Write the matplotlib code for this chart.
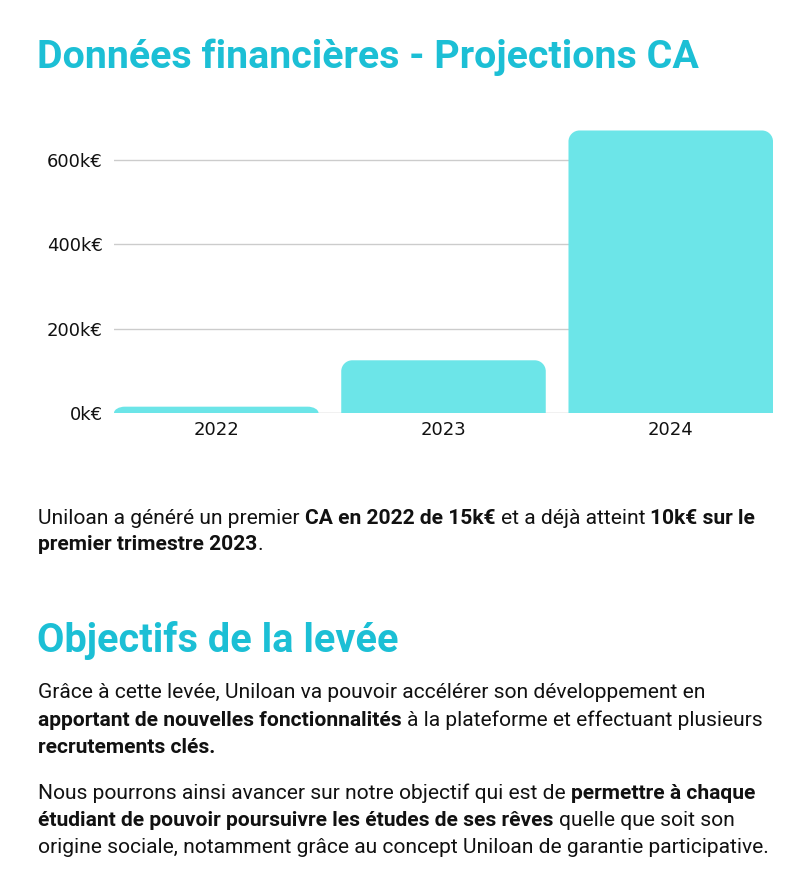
import matplotlib
matplotlib.use("Agg")
import matplotlib.pyplot as plt
from matplotlib.path import Path
from matplotlib.patches import PathPatch

# ---- data ----
years = ["2022", "2023", "2024"]
ca_values = [15, 125, 670]          # k€
y_ticks = [0, 200, 400, 600]
y_tick_labels = ["0k€", "200k€", "400k€", "600k€"]

title = "Données financières - Projections CA"
heading2 = "Objectifs de la levée"
para1 = [
    [("Uniloan a généré un premier ", False), ("CA en 2022 de 15k€", True),
     (" et a déjà atteint ", False), ("10k€ sur le", True)],
    [("premier trimestre 2023", True), (".", False)],
]
para2 = [
    [("Grâce à cette levée, Uniloan va pouvoir accélérer son développement en", False)],
    [("apportant de nouvelles fonctionnalités", True),
     (" à la plateforme et effectuant plusieurs", False)],
    [("recrutements clés.", True)],
]
para3 = [
    [("Nous pourrons ainsi avancer sur notre objectif qui est de ", False),
     ("permettre à chaque", True)],
    [("étudiant de pouvoir poursuivre les études de ses rêves", True),
     (" quelle que soit son", False)],
    [("origine sociale, notamment grâce au concept Uniloan de garantie participative.", False)],
]

W, H = 808, 888
DPI = 100
TEAL = "#1cbfd5"
BAR = "#6ce5e8"
TXT = "#111111"
TITLE_FONT = "Roboto"
BODY_FONT = "Roboto"
TICK_FONT = "DejaVu Sans"

fig = plt.figure(figsize=(W / DPI, H / DPI), dpi=DPI)
fig.patch.set_facecolor("white")


def fx(px):
    return px / W


def fy(py):
    return 1 - py / H


# ---- chart ----
ax_l, ax_r, ax_b = 114, 773, 413
ymax = 700
px_per_k = 253 / 600
ax_t = ax_b - ymax * px_per_k
ax = fig.add_axes([fx(ax_l), fy(ax_b), (ax_r - ax_l) / W, (ax_b - ax_t) / H])
bar_w = 0.9
ax.set_xlim(-bar_w / 2, len(years) - 1 + bar_w / 2)
ax.set_ylim(0, ymax)
for s in ax.spines.values():
    s.set_visible(False)
ax.set_yticks(y_ticks)
ax.set_yticklabels(y_tick_labels, fontsize=13, family=TICK_FONT, color=TXT)
ax.set_xticks(range(len(years)))
ax.set_xticklabels(years, fontsize=13, family=TICK_FONT, color=TXT)
ax.tick_params(axis="both", length=0)
ax.tick_params(axis="y", pad=8)
ax.tick_params(axis="x", pad=6)
for t in y_ticks:
    ax.axhline(t, color="#cccccc" if t else "#bbbbbb", lw=1, zorder=0)

rad_px = 11
x_px_per_unit = (ax_r - ax_l) / (len(years) - 1 + bar_w)
rx = rad_px / x_px_per_unit
ry_full = rad_px / px_per_k
k = 0.5523
for i, v in enumerate(ca_values):
    x0, x1 = i - bar_w / 2, i + bar_w / 2
    ry = min(ry_full, v)
    verts = [
        (x0, 0), (x0, v - ry),
        (x0, v - ry + k * ry), (x0 + rx - k * rx, v), (x0 + rx, v),
        (x1 - rx, v),
        (x1 - rx + k * rx, v), (x1, v - ry + k * ry), (x1, v - ry),
        (x1, 0), (x0, 0),
    ]
    codes = [Path.MOVETO, Path.LINETO,
             Path.CURVE4, Path.CURVE4, Path.CURVE4,
             Path.LINETO,
             Path.CURVE4, Path.CURVE4, Path.CURVE4,
             Path.LINETO, Path.CLOSEPOLY]
    ax.add_patch(PathPatch(Path(verts, codes), facecolor=BAR, edgecolor="none", zorder=2))

# ---- text ----
fig.text(fx(37), fy(57), title, fontsize=28.4, fontweight="bold", family=TITLE_FONT,
         color=TEAL, va="center", ha="left")
fig.text(fx(37), fy(640), heading2, fontsize=28.6, fontweight="bold", family=TITLE_FONT,
         color=TEAL, va="center", ha="left")

renderer = fig.canvas.get_renderer()
BODY_SIZE = 15.1


def text_width(s, bold):
    t = fig.text(0, 0, s, fontsize=BODY_SIZE, family=BODY_FONT,
                 fontweight="bold" if bold else "normal")
    w = t.get_window_extent(renderer).width
    t.remove()
    return w


space_w = {b: text_width("a a", b) - text_width("aa", b) for b in (False, True)}


def draw_line(x, y, runs):
    for s, bold in runs:
        lead = len(s) - len(s.lstrip(" "))
        trail = len(s) - len(s.rstrip(" "))
        core = s.strip(" ")
        x += lead * space_w[bold]
        if core:
            t = fig.text(fx(x), fy(y), core, fontsize=BODY_SIZE, family=BODY_FONT,
                         fontweight="bold" if bold else "normal", color=TXT,
                         va="center", ha="left")
            x += t.get_window_extent(renderer).width
        x += trail * space_w[bold]


for lines, y0 in ((para1, 518), (para2, 693), (para3, 793)):
    for j, runs in enumerate(lines):
        draw_line(38, y0 + 27 * j, runs)

fig.savefig("out.png", dpi=DPI, facecolor="white")
